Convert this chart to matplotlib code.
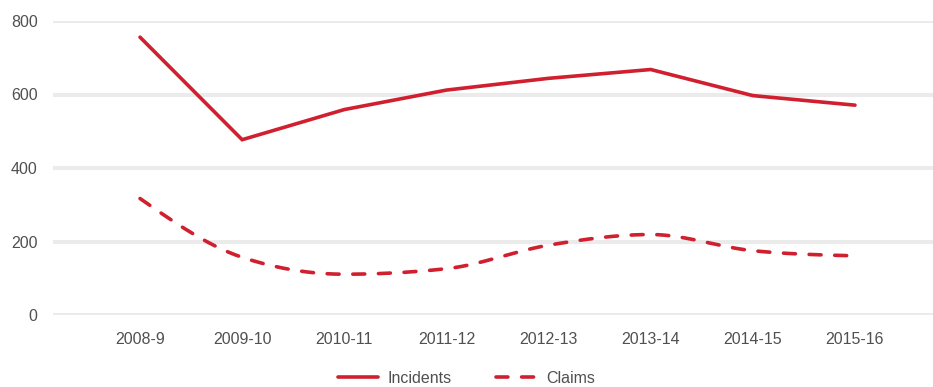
import numpy as np
import matplotlib
matplotlib.use("Agg")
import matplotlib.pyplot as plt
from matplotlib.lines import Line2D

# Data
years = ["2008-9", "2009-10", "2010-11", "2011-12", "2012-13", "2013-14", "2014-15", "2015-16"]
incidents = [756, 477, 559, 612, 644, 668, 597, 571]
claims = [317, 157, 111, 126, 190, 219, 175, 161]

RED = "#d0202f"
TEXT = "#505050"
GRID = "#ebebeb"

plt.rcParams["font.family"] = ["Liberation Sans", "DejaVu Sans"]


def monotone_curve(x, y, n=30):
    """Monotone cubic (Fritsch-Carlson) interpolation, like d3.curveMonotoneX."""
    x = np.asarray(x, float)
    y = np.asarray(y, float)
    h = np.diff(x)
    s = np.diff(y) / h
    m = np.zeros_like(y)
    for i in range(1, len(y) - 1):
        p = (s[i - 1] * h[i] + s[i] * h[i - 1]) / (h[i - 1] + h[i])
        m[i] = (np.sign(s[i - 1]) + np.sign(s[i])) * min(abs(s[i - 1]), abs(s[i]), 0.5 * abs(p))
    m[0] = (3 * s[0] - m[1]) / 2
    m[-1] = (3 * s[-1] - m[-2]) / 2
    xs, ys = [], []
    for i in range(len(x) - 1):
        t = np.linspace(0, 1, n, endpoint=(i == len(x) - 2))
        h00 = 2 * t**3 - 3 * t**2 + 1
        h10 = t**3 - 2 * t**2 + t
        h01 = -2 * t**3 + 3 * t**2
        h11 = t**3 - t**2
        xs.append(x[i] + t * h[i])
        ys.append(h00 * y[i] + h10 * h[i] * m[i] + h01 * y[i + 1] + h11 * h[i] * m[i + 1])
    return np.concatenate(xs), np.concatenate(ys)


fig = plt.figure(figsize=(9.33, 3.87), dpi=100)
ax = fig.add_axes([53 / 933, 72 / 387, 880 / 933, 294 / 387])

xpos = np.arange(len(years))
ax.plot(xpos, incidents, color=RED, lw=2.6, solid_joinstyle="miter",
        solid_capstyle="round", clip_on=False, zorder=3)

cx, cy = monotone_curve(xpos, claims)
ax.plot(cx, cy, color=RED, lw=2.6, linestyle=(0, (3.3, 3.8)),
        dash_capstyle="round", clip_on=False, zorder=3)

ax.set_ylim(0, 800)
ax.set_xlim(-0.852, 7.764)
ax.set_yticks([0, 200, 400, 600, 800])
ax.set_xticks(xpos)
ax.set_xticklabels(years)
ax.grid(axis="y", color=GRID, lw=2.9)
ax.set_axisbelow(True)
for sp in ax.spines.values():
    sp.set_visible(False)
ax.tick_params(axis="both", length=0, labelsize=11.5, labelcolor=TEXT)
ax.tick_params(axis="x", pad=12.5)
ax.tick_params(axis="y", pad=11)

handles = [
    Line2D([], [], color=RED, lw=2.6, solid_capstyle="round"),
    Line2D([], [], color=RED, lw=2.6, linestyle=(0, (3.3, 3.8)), dash_capstyle="round"),
]
leg = fig.legend(handles, ["Incidents", "Claims"], loc="center", bbox_to_anchor=(0.5, 0.022),
                 ncol=2, frameon=False, fontsize=11.5, handlelength=2.5,
                 columnspacing=2.8, handletextpad=0.6)
for t in leg.get_texts():
    t.set_color(TEXT)

fig.savefig("out.png", dpi=100)
